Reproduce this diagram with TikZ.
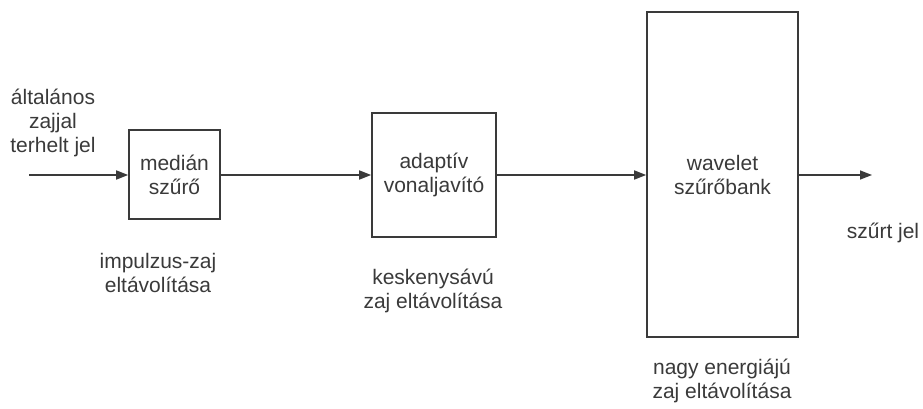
\documentclass[tikz,border=0pt]{standalone}
\usepackage{fontspec}
\setmainfont{Liberation Sans}
\usetikzlibrary{arrows.meta}
\definecolor{ink}{HTML}{3A3A3A}
\begin{document}
\begin{tikzpicture}[x=1pt,y=-1pt,
  font=\fontsize{21}{24}\selectfont,
  every node/.style={text=ink, inner sep=0pt},
  block/.style={draw=ink, line width=1.6pt, fill=white, align=center},
  lbl/.style={align=center},
  flow/.style={draw=ink, line width=1.6pt, -{Triangle[length=12pt,width=9pt]}}]
  \useasboundingbox (0,0) rectangle (923,409);

  % processing blocks
  \node[block, minimum width=91pt, minimum height=89pt] (med) at (174.5,174.5) {medián\\szűrő};
  \node[block, minimum width=124pt, minimum height=124pt] (ada) at (434,175) {adaptív\\vonaljavító};
  \node[block, minimum width=151pt, minimum height=325pt] (wav) at (722.5,174.5) {wavelet\\szűrőbank};

  % signal path
  \coordinate (in) at (29,175);
  \coordinate (out) at (872,175);
  \draw[flow] (in) -- (med.west |- in);
  \draw[flow] (med.east |- in) -- (ada.west |- in);
  \draw[flow] (ada.east |- in) -- (wav.west |- in);
  \draw[flow] (wav.east |- out) -- (out);

  % captions
  \node[lbl] (inlbl) at (53,123) {általános\\zajjal\\terhelt jel};
  \node[lbl] (outlbl) at (883,233) {szűrt jel};
  \node[lbl] (medlbl) at (158,273) {impulzus-zaj\\eltávolítása};
  \node[lbl] (adalbl) at (433,291) {keskenysávú\\zaj eltávolítása};
  \node[lbl] (wavlbl) at (722,381) {nagy energiájú\\zaj eltávolítása};
\end{tikzpicture}
\end{document}
